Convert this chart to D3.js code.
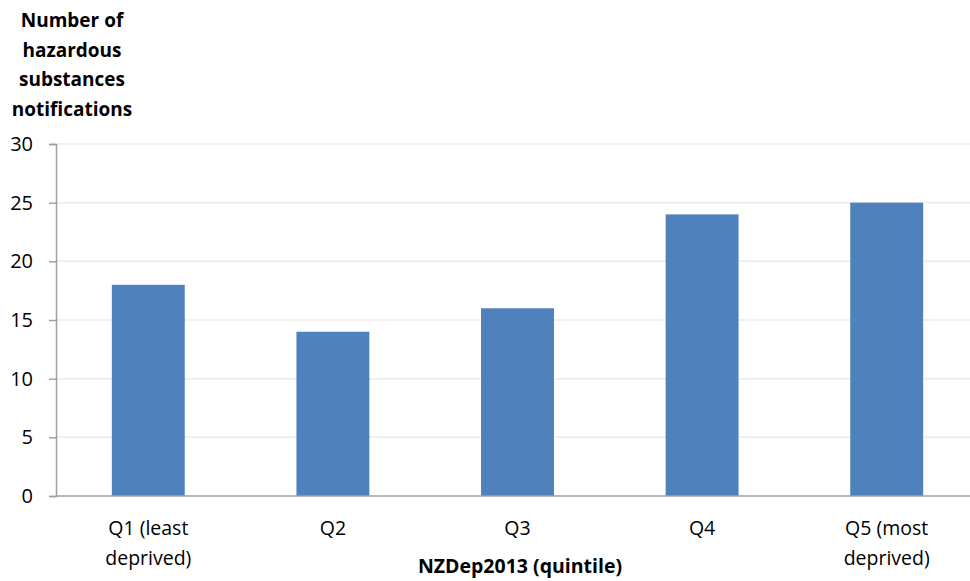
<!DOCTYPE html>
<html><head><meta charset="utf-8">
<script src="https://cdn.jsdelivr.net/npm/d3@7"></script>
<style>body{margin:0;background:#fff}svg{display:block}text{font-family:"Open Sans",sans-serif;fill:#000}</style>
</head><body><svg id="c" width="970" height="581"></svg>
<script>
const categories = [["Q1 (least","deprived)"],["Q2"],["Q3"],["Q4"],["Q5 (most","deprived)"]];
const values = [18,14,16,24,25];
const yTicks = [0,5,10,15,20,25,30];
const yTitle = ["Number of","hazardous","substances","notifications"];
const xTitle = "NZDep2013 (quintile)";

const svg = d3.select("#c");
const m = {l:56, r:979, t:144, b:496};
const x = d3.scaleBand().domain(d3.range(values.length)).range([m.l,m.r]).paddingInner(0.605).paddingOuter(0.3025);
const y = d3.scaleLinear().domain([0,30]).range([m.b,m.t]);

// gridlines
svg.append("g").selectAll("line").data(yTicks.filter(d=>d>0)).join("line")
  .attr("x1",m.l).attr("x2",m.r).attr("y1",d=>y(d)).attr("y2",d=>y(d))
  .attr("stroke","#ececec").attr("stroke-width",1.5);

// bars
svg.append("g").selectAll("rect").data(values).join("rect")
  .attr("x",(d,i)=>x(i)).attr("width",x.bandwidth())
  .attr("y",d=>y(d)).attr("height",d=>y(0)-y(d)).attr("fill","#4f81bd");

// y axis
const ya = svg.append("g").attr("transform",`translate(${m.l},0)`)
  .call(d3.axisLeft(y).tickValues(yTicks).tickSize(7).tickPadding(16));
ya.select(".domain").attr("stroke","#a0a0a0").attr("stroke-width",1.5);
ya.selectAll(".tick line").attr("stroke","#a0a0a0").attr("stroke-width",1.5);
ya.selectAll(".tick text").attr("font-size",20).attr("font-family","'Open Sans',sans-serif").attr("fill","#000");

// x axis line
svg.append("line").attr("x1",m.l).attr("x2",m.r).attr("y1",m.b).attr("y2",m.b).attr("stroke","#a0a0a0").attr("stroke-width",1.5);

// x labels
const xl = svg.append("g").selectAll("text").data(categories).join("text")
  .attr("x",(d,i)=>x(i)+x.bandwidth()/2).attr("y",535).attr("text-anchor","middle").attr("font-size",19.5);
xl.selectAll("tspan").data(d=>d).join("tspan").attr("x",function(){return this.parentNode.getAttribute("x");})
  .attr("dy",(d,i)=>i?30:0).text(d=>d);

// y title
svg.append("text").attr("x",72).attr("y",27).attr("text-anchor","middle").attr("font-size",19).attr("font-weight","bold")
  .selectAll("tspan").data(yTitle).join("tspan").attr("x",72).attr("dy",(d,i)=>i?29.5:0).text(d=>d);

// x title
svg.append("text").attr("x",520).attr("y",573).attr("text-anchor","middle").attr("font-size",19.5).attr("font-weight","bold").text(xTitle);
</script></body></html>
